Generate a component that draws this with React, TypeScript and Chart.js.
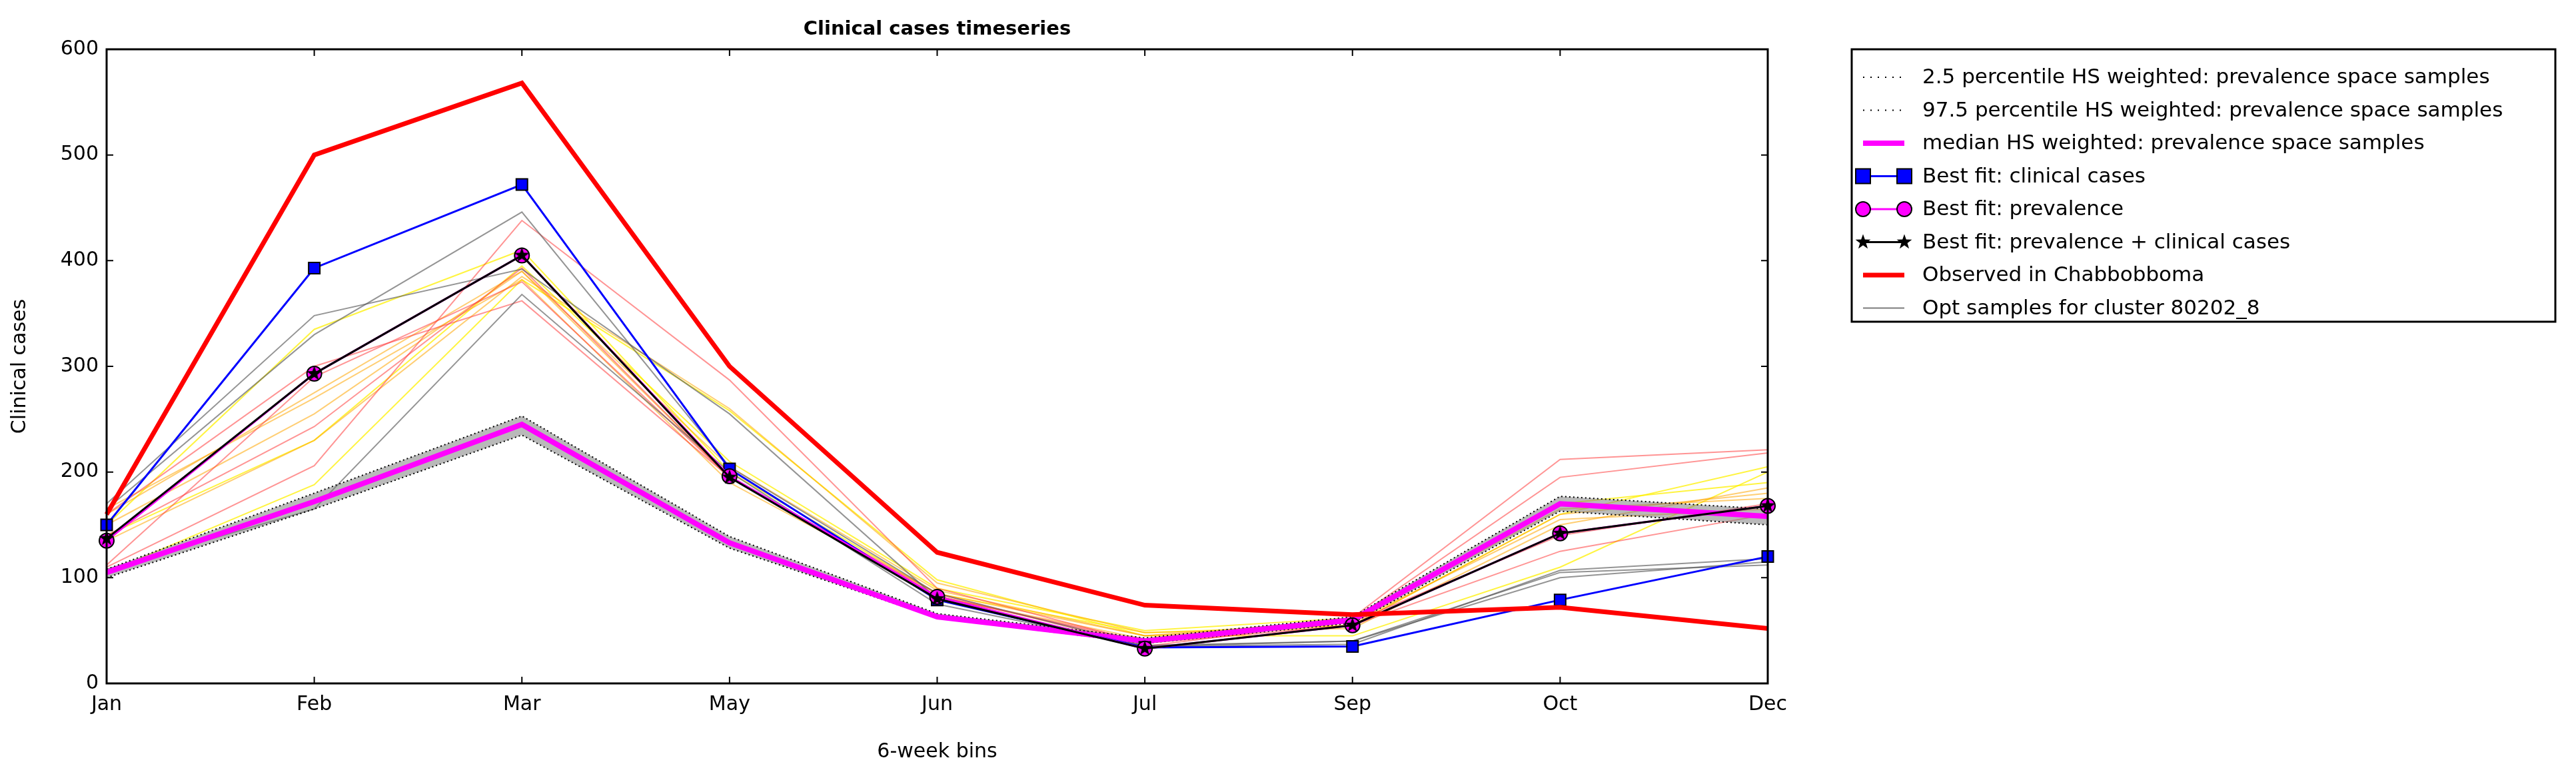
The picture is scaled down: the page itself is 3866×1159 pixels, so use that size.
import React, { useEffect, useRef } from "react";
import { Chart, registerables } from "chart.js";
Chart.register(...registerables);

const categories = ["Jan", "Feb", "Mar", "May", "Jun", "Jul", "Sep", "Oct", "Dec"];
const observed = [160, 500, 568, 300, 124, 74, 65, 72, 52];
const bestClinical = [150, 393, 472, 203, 79, 34, 35, 79, 120];
const bestPrevalence = [135, 293, 405, 196, 82, 33, 55, 142, 168];
const bestBoth = [137, 293, 405, 195, 80, 33, 55, 142, 168];
const median = [105, 172, 245, 133, 63, 40, 60, 170, 158];
const p025 = [100, 165, 235, 128, 62, 38, 57, 163, 150];
const p975 = [108, 180, 253, 139, 66, 43, 63, 177, 165];
const samplesGrey = [
  [170, 348, 392, 255, 80, 35, 37, 107, 118],
  [165, 330, 446, 205, 85, 36, 40, 100, 115],
  [108, 165, 368, 200, 75, 35, 40, 105, 112],
];
const samplesRed = [
  [110, 206, 438, 287, 90, 38, 62, 212, 221],
  [160, 300, 362, 195, 85, 35, 60, 195, 218],
  [140, 243, 393, 195, 83, 38, 55, 125, 160],
  [112, 290, 380, 195, 82, 40, 58, 140, 170],
];
const samplesOrange = [
  [165, 270, 382, 190, 85, 45, 55, 160, 180],
  [150, 255, 390, 205, 88, 45, 60, 165, 175],
  [135, 230, 385, 260, 95, 48, 52, 150, 185],
  [160, 275, 390, 195, 82, 42, 58, 155, 165],
];
const samplesYellow = [
  [105, 188, 382, 258, 98, 45, 45, 110, 200],
  [150, 335, 410, 200, 85, 48, 55, 160, 205],
  [140, 230, 395, 210, 90, 50, 62, 170, 190],
];
const yTicks = [0, 100, 200, 300, 400, 500, 600];
const legendLabels = [
  "2.5 percentile HS weighted: prevalence space samples",
  "97.5 percentile HS weighted: prevalence space samples",
  "median HS weighted: prevalence space samples",
  "Best fit: clinical cases",
  "Best fit: prevalence",
  "Best fit: prevalence + clinical cases",
  "Observed in Chabbobboma",
  "Opt samples for cluster 80202_8",
];

function drawStar(ctx: CanvasRenderingContext2D, cx: number, cy: number, r: number) {
  ctx.beginPath();
  for (let i = 0; i < 10; i++) {
    const a = -Math.PI / 2 + (i * Math.PI) / 5;
    const rr = i % 2 === 0 ? r : r * 0.4;
    const x = cx + rr * Math.cos(a);
    const y = cy + rr * Math.sin(a);
    if (i === 0) ctx.moveTo(x, y);
    else ctx.lineTo(x, y);
  }
  ctx.closePath();
  ctx.fill();
}

function starImage(r: number) {
  const c = document.createElement("canvas");
  c.width = r * 2 + 2;
  c.height = r * 2 + 2;
  const ctx = c.getContext("2d")!;
  ctx.fillStyle = "#000";
  drawStar(ctx, r + 1, r + 1, r);
  return c;
}

export default function App() {
  const ref = useRef<HTMLCanvasElement>(null);
  useEffect(() => {
    const star = starImage(12);
    const thin = (d: number[], color: string, order: number) => ({
      data: d,
      borderColor: color,
      borderWidth: 2,
      pointRadius: 0,
      fill: false,
      order,
      tension: 0,
    });
    const datasets: any[] = [];
    samplesGrey.forEach((d) => datasets.push(thin(d, "rgba(90,90,90,0.65)", 20)));
    samplesRed.forEach((d) => datasets.push(thin(d, "rgba(255,60,60,0.55)", 20)));
    samplesOrange.forEach((d) => datasets.push(thin(d, "rgba(255,165,0,0.55)", 20)));
    samplesYellow.forEach((d) => datasets.push(thin(d, "rgba(255,240,0,0.75)", 20)));
    const base = datasets.length;
    datasets.push({ data: p025, borderColor: "#000", borderWidth: 2, borderDash: [2, 4], pointRadius: 0, fill: false, order: 10 });
    datasets.push({ data: p975, borderColor: "#000", borderWidth: 2, borderDash: [2, 4], pointRadius: 0, fill: base, backgroundColor: "rgba(128,128,128,0.55)", order: 10 });
    datasets.push({ data: median, borderColor: "#ff00ff", borderWidth: 8, pointRadius: 0, fill: false, order: 9 });
    datasets.push({ data: bestClinical, borderColor: "#0000ff", borderWidth: 3, pointStyle: "rect", pointRadius: 12, pointBackgroundColor: "#0000ff", pointBorderColor: "#000", pointBorderWidth: 2, fill: false, order: 5 });
    datasets.push({ data: bestPrevalence, borderColor: "#ff00ff", borderWidth: 3, pointStyle: "circle", pointRadius: 11, pointBackgroundColor: "#ff00ff", pointBorderColor: "#000", pointBorderWidth: 2, fill: false, order: 4 });
    datasets.push({ data: bestBoth, borderColor: "#000", borderWidth: 3, pointStyle: star, pointRadius: 12, fill: false, order: 3 });
    datasets.push({ data: observed, borderColor: "#ff0000", borderWidth: 7, pointRadius: 0, fill: false, order: 1 });

    const frame = {
      id: "frame",
      afterDraw(chart: any) {
        const ctx = chart.ctx;
        const a = chart.chartArea;
        const xs = chart.scales.x;
        const ys = chart.scales.y;
        ctx.save();
        ctx.strokeStyle = "#000";
        ctx.lineWidth = 3;
        ctx.strokeRect(a.left, a.top, a.right - a.left, a.bottom - a.top);
        ctx.lineWidth = 2;
        ctx.beginPath();
        categories.forEach((_, i) => {
          const x = xs.getPixelForValue(i);
          ctx.moveTo(x, a.bottom); ctx.lineTo(x, a.bottom - 10);
          ctx.moveTo(x, a.top); ctx.lineTo(x, a.top + 10);
        });
        yTicks.forEach((v) => {
          const y = ys.getPixelForValue(v);
          ctx.moveTo(a.left, y); ctx.lineTo(a.left + 10, y);
          ctx.moveTo(a.right, y); ctx.lineTo(a.right - 10, y);
        });
        ctx.stroke();
        // title
        ctx.fillStyle = "#000";
        ctx.font = "bold 29px 'DejaVu Sans'";
        ctx.textAlign = "center";
        ctx.textBaseline = "middle";
        ctx.fillText("Clinical cases timeseries", (a.left + a.right) / 2, 36);
        // legend
        const lx = 2771, ly = 66, lw = 1056, lh = 409;
        ctx.fillStyle = "#fff";
        ctx.fillRect(lx, ly, lw, lh);
        ctx.lineWidth = 3;
        ctx.strokeRect(lx, ly, lw, lh);
        ctx.font = "31px 'DejaVu Sans'";
        ctx.textAlign = "left";
        const x0 = 2788, x1 = 2850;
        legendLabels.forEach((lab, i) => {
          const y = ly + 42 + i * 49.5;
          ctx.setLineDash([]);
          if (i < 2) {
            ctx.strokeStyle = "#000"; ctx.lineWidth = 2; ctx.setLineDash([2, 9]);
            ctx.beginPath(); ctx.moveTo(x0, y); ctx.lineTo(x1, y); ctx.stroke();
            ctx.setLineDash([]);
          } else if (i === 2) {
            ctx.strokeStyle = "#ff00ff"; ctx.lineWidth = 8;
            ctx.beginPath(); ctx.moveTo(x0, y); ctx.lineTo(x1, y); ctx.stroke();
          } else if (i === 3) {
            ctx.strokeStyle = "#0000ff"; ctx.lineWidth = 3;
            ctx.beginPath(); ctx.moveTo(x0, y); ctx.lineTo(x1, y); ctx.stroke();
            ctx.fillStyle = "#0000ff"; ctx.strokeStyle = "#000"; ctx.lineWidth = 2;
            [x0, x1].forEach((x) => { ctx.fillRect(x - 11, y - 11, 22, 22); ctx.strokeRect(x - 11, y - 11, 22, 22); });
          } else if (i === 4) {
            ctx.strokeStyle = "#ff00ff"; ctx.lineWidth = 3;
            ctx.beginPath(); ctx.moveTo(x0, y); ctx.lineTo(x1, y); ctx.stroke();
            ctx.fillStyle = "#ff00ff"; ctx.strokeStyle = "#000"; ctx.lineWidth = 2;
            [x0, x1].forEach((x) => { ctx.beginPath(); ctx.arc(x, y, 11, 0, Math.PI * 2); ctx.fill(); ctx.stroke(); });
          } else if (i === 5) {
            ctx.strokeStyle = "#000"; ctx.lineWidth = 3;
            ctx.beginPath(); ctx.moveTo(x0, y); ctx.lineTo(x1, y); ctx.stroke();
            ctx.fillStyle = "#000";
            [x0, x1].forEach((x) => drawStar(ctx, x, y, 12));
          } else if (i === 6) {
            ctx.strokeStyle = "#ff0000"; ctx.lineWidth = 7;
            ctx.beginPath(); ctx.moveTo(x0, y); ctx.lineTo(x1, y); ctx.stroke();
          } else {
            ctx.strokeStyle = "rgba(90,90,90,0.8)"; ctx.lineWidth = 2;
            ctx.beginPath(); ctx.moveTo(x0, y); ctx.lineTo(x1, y); ctx.stroke();
          }
          ctx.fillStyle = "#000";
          ctx.fillText(lab, 2877, y + 1);
        });
        ctx.restore();
      },
    };

    const chart = new Chart(ref.current!, {
      type: "line",
      data: { labels: categories, datasets },
      options: {
        animation: false,
        responsive: false,
        devicePixelRatio: 1,
        layout: { padding: { top: 66, right: 1205, left: 0, bottom: 0 } },
        plugins: { legend: { display: false }, title: { display: false }, tooltip: { enabled: false } },
        scales: {
          x: {
            type: "category",
            offset: false,
            grid: { display: false, drawTicks: false },
            border: { display: false },
            ticks: { color: "#000", font: { family: "DejaVu Sans", size: 30 }, padding: 14, maxRotation: 0 },
            title: { display: true, text: "6-week bins", color: "#000", font: { family: "DejaVu Sans", size: 30 }, padding: { top: 8 } },
            afterFit: (s: any) => { s.height = 125; },
          },
          y: {
            min: 0,
            max: 600,
            grid: { display: false, drawTicks: false },
            border: { display: false },
            ticks: { color: "#000", font: { family: "DejaVu Sans", size: 30 }, padding: 12, stepSize: 100 },
            title: { display: true, text: "Clinical cases", color: "#000", font: { family: "DejaVu Sans", size: 30 }, padding: { bottom: 10 } },
            afterFit: (s: any) => { s.width = 152; },
          },
        },
      },
      plugins: [frame],
    } as any);
    return () => chart.destroy();
  }, []);
  return (
    <div style={{ width: 3850, height: 1143 }}>
      <canvas ref={ref} width={3850} height={1143} style={{ width: 3850, height: 1143 }} />
    </div>
  );
}
